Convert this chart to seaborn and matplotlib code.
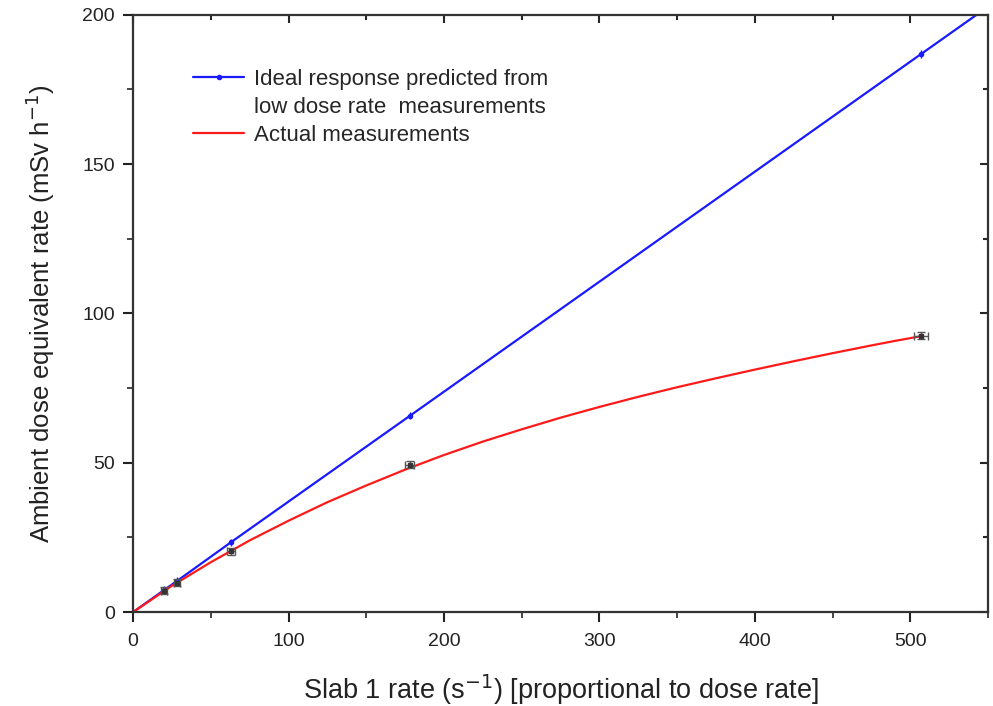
import numpy as np
import pandas as pd
import matplotlib
matplotlib.use("Agg")
import matplotlib.pyplot as plt
import seaborn as sns
from matplotlib.ticker import MultipleLocator
from matplotlib.lines import Line2D

# measured points (slab 1 rate, dose rate)
rate = [20, 28.5, 63, 178, 507]
dose_actual = [7.1, 9.9, 20.4, 49.3, 92.5]
rate_err = [2, 2, 2.5, 3, 4.5]
dose_err = [1.2, 1.2, 1.2, 1.2, 1.2]

# ideal response predicted from low dose rate measurements
ideal_x = [0, 20, 28.5, 63, 178, 507, 560]
ideal_y = [0, 7.4, 10.5, 23.4, 65.7, 186.9, 206.4]
ideal_pts_x = [20, 28.5, 63, 178, 507]
ideal_pts_y = [7.4, 10.5, 23.4, 65.7, 186.9]

fit_x = [0, 25, 50, 75, 100, 125, 150, 175, 200, 225, 250, 275, 300,
         325, 350, 375, 400, 425, 450, 475, 490, 507]
fit_y = [0, 8.8, 16.7, 24.0, 30.6, 36.8, 42.4, 47.7, 52.6, 57.1, 61.2, 65.1, 68.7,
         72.1, 75.3, 78.3, 81.2, 84.0, 86.7, 89.3, 90.8, 92.4]

legend_labels = ["Ideal response predicted from", "low dose rate  measurements",
                 "Actual measurements"]

sns.set_style("ticks")
plt.rcParams['font.family'] = ['Liberation Sans', 'DejaVu Sans']

fig = plt.figure(figsize=(9.93, 7.06), dpi=100)
ax = fig.add_axes([0.134, 0.133, 0.861, 0.846])

ideal = pd.DataFrame({"x": ideal_x, "y": ideal_y})
fit = pd.DataFrame({"x": fit_x, "y": fit_y})

sns.lineplot(data=ideal, x="x", y="y", ax=ax, color="#1a1aff", linewidth=1.6, sort=False)
ax.errorbar(ideal_pts_x, ideal_pts_y, yerr=dose_err, fmt="o", color="#1a1aff",
            markersize=3, elinewidth=1, capsize=0, zorder=4)
sns.lineplot(data=fit, x="x", y="y", ax=ax, color="#ff1a1a", linewidth=1.6)
ax.errorbar(rate, dose_actual, xerr=rate_err, yerr=dose_err, fmt="s", color="#333333",
            ecolor="#555555", markersize=3, elinewidth=1, capsize=3, zorder=5)

ax.set_xlim(0, 550)
ax.set_ylim(0, 200)
ax.xaxis.set_major_locator(MultipleLocator(100))
ax.xaxis.set_minor_locator(MultipleLocator(50))
ax.yaxis.set_major_locator(MultipleLocator(50))
ax.yaxis.set_minor_locator(MultipleLocator(25))
ax.tick_params(which="major", direction="out", length=7, width=1.5, labelsize=14,
               colors="#222222", pad=6)
ax.tick_params(axis="x", which="major", pad=8)
ax.tick_params(which="minor", direction="out", length=4, width=1.2)

for side in ["top", "right"]:
    ax.spines[side].set_visible(True)
for sp in ax.spines.values():
    sp.set_linewidth(1.6)
    sp.set_color("#333333")

top = ax.secondary_xaxis("top")
top.xaxis.set_major_locator(MultipleLocator(100))
top.xaxis.set_minor_locator(MultipleLocator(50))
top.tick_params(which="both", direction="in", labeltop=False, width=1.5)
top.tick_params(which="major", length=6)
top.tick_params(which="minor", length=3.5)
top.spines["top"].set_visible(False)
right = ax.secondary_yaxis("right")
right.yaxis.set_major_locator(MultipleLocator(50))
right.yaxis.set_minor_locator(MultipleLocator(25))
right.tick_params(which="both", direction="in", labelright=False, width=1.5)
right.tick_params(which="major", length=6)
right.tick_params(which="minor", length=3.5)
right.spines["right"].set_visible(False)

ax.set_xlabel("Slab 1 rate (s$^{-1}$) [proportional to dose rate]", fontsize=19.5,
              color="#222222", labelpad=16)
ax.set_ylabel("Ambient dose equivalent rate (mSv h$^{-1}$)", fontsize=18.5,
              color="#222222", labelpad=18)

handles = [
    Line2D([0, 0.5, 1], [0, 0, 0], color="#1a1aff", lw=1.6, marker="o", markersize=3,
           markevery=[1]),
    Line2D([], [], color="none", lw=0),
    Line2D([], [], color="#ff1a1a", lw=1.6),
]
leg = ax.legend(handles, legend_labels, loc="upper left", bbox_to_anchor=(0.06, 0.925),
                frameon=False, fontsize=16, handlelength=2.3, handletextpad=0.45,
                labelspacing=0.33, borderaxespad=0)

fig.savefig("out.png", dpi=100)
